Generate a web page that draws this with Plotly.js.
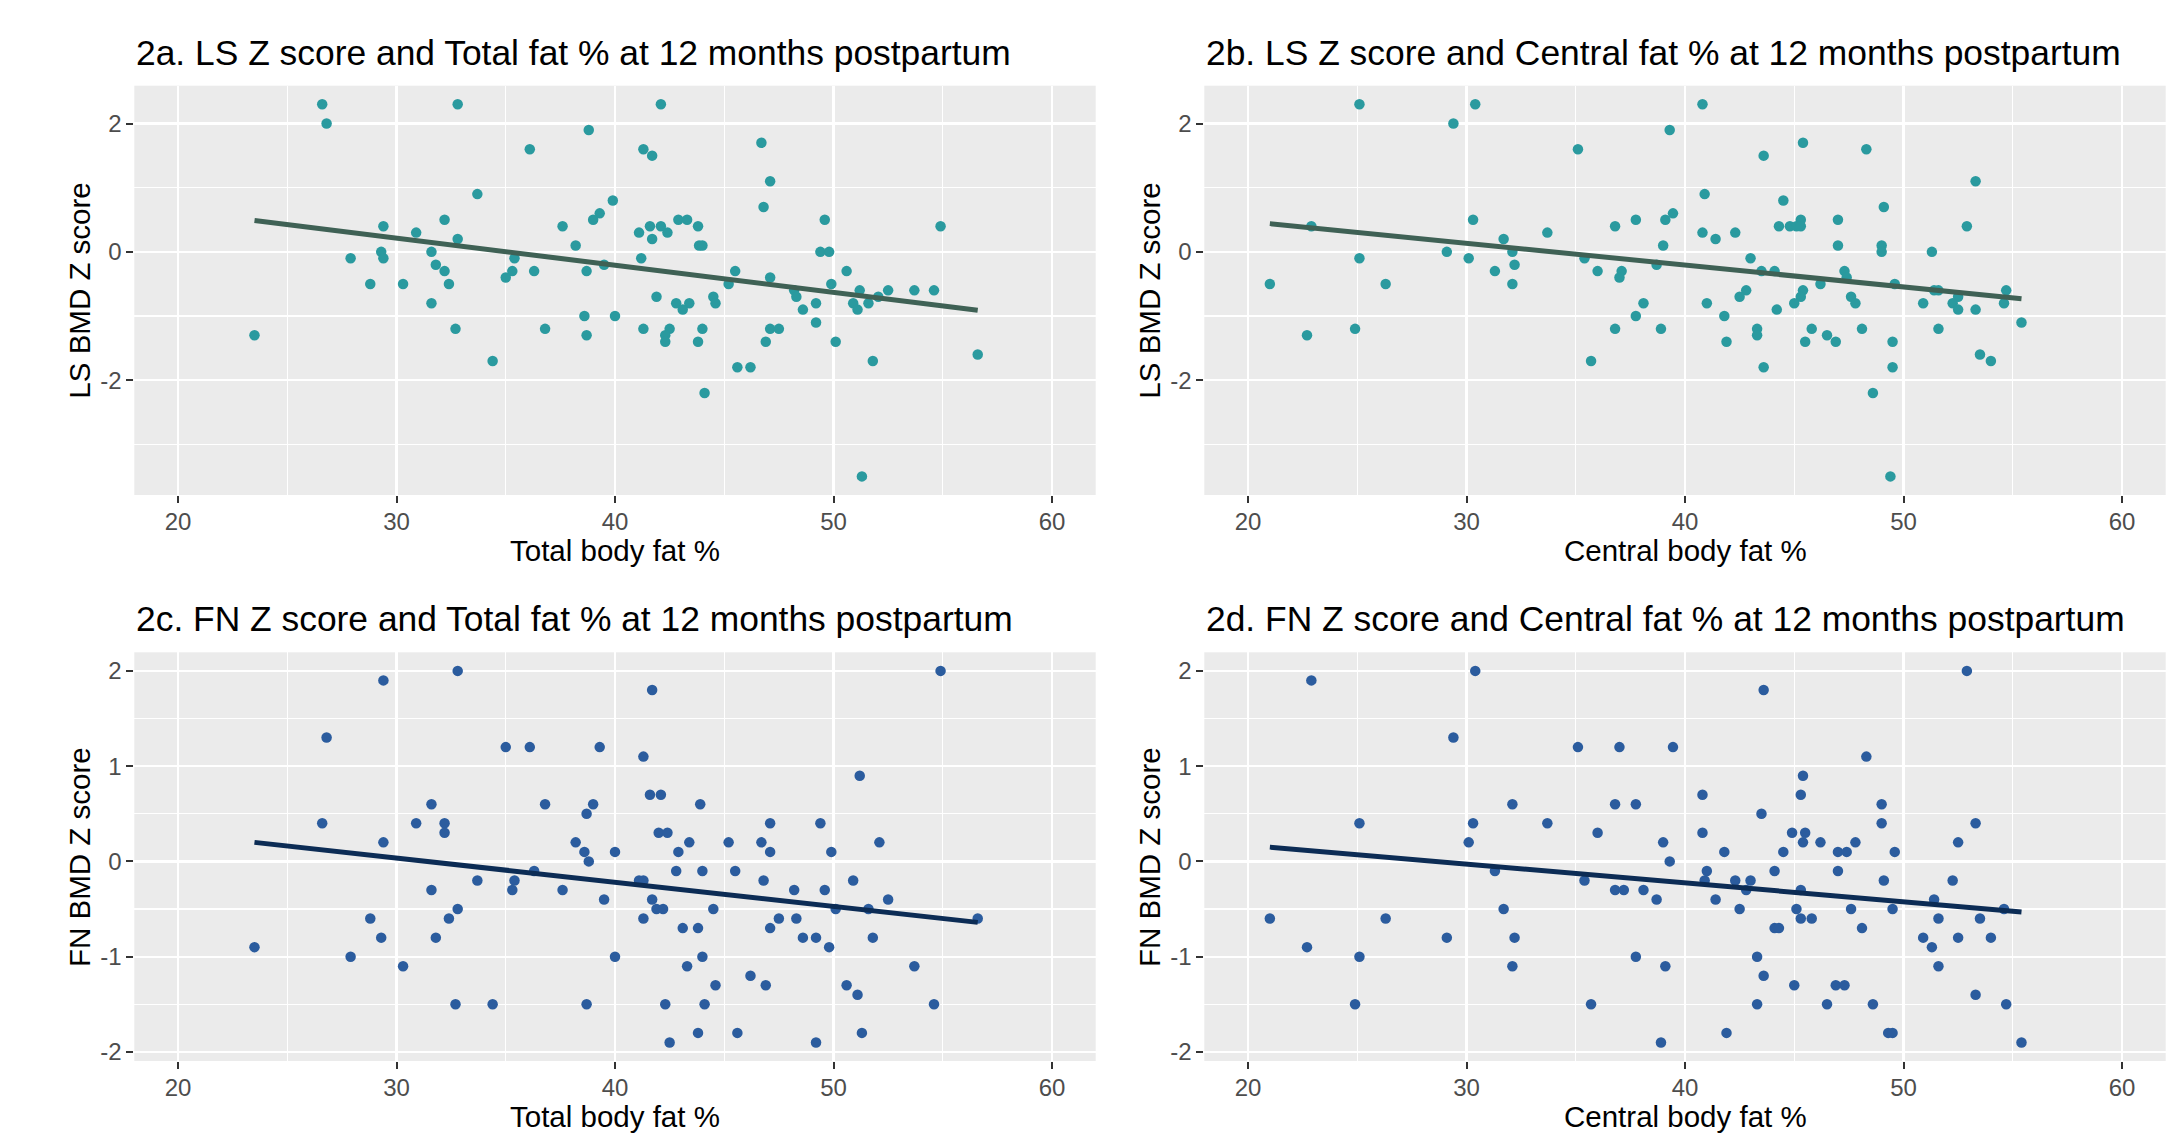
<!DOCTYPE html>
<html>
<head>
<meta charset="utf-8">
<script src="https://cdn.plot.ly/plotly-3.0.1.min.js"></script>
<style>
  html, body { margin: 0; padding: 0; background: #ffffff; }
  #chart { width: 2174px; height: 1135px; }
</style>
</head>
<body>
<div id="chart"></div>
<script>
// ---------- Data ----------
// 2a: LS BMD Z score vs Total body fat %
const lsTotalX = [26.6, 26.8, 32.8, 38.8, 36.1, 33.7, 39.9, 39.3, 39.0, 29.4, 37.6, 32.2, 30.9, 32.8, 38.2, 31.6, 29.3, 27.9, 29.4, 35.4,
  31.8, 32.2, 35.3, 36.3, 38.7, 39.5, 35.0, 28.8, 30.3, 32.4, 31.6, 38.6, 40.0, 32.7, 36.8, 38.7, 23.5, 34.4,
  42.1, 41.3, 41.7, 46.7, 47.1, 46.8, 49.6, 54.9, 41.1, 41.6, 42.1, 42.4, 42.9, 43.3, 43.8, 41.7, 43.85, 44.0, 41.2, 49.4,
  49.8, 45.5, 50.6, 45.2, 47.1, 49.9, 48.2, 48.3, 51.2, 52.5, 53.7, 54.6, 52.05, 41.9, 42.8, 43.4, 43.1, 44.5, 44.6, 49.2,
  50.9, 51.6, 51.1, 48.6, 49.2, 41.3, 42.5, 42.3, 42.3, 44.0, 43.8, 47.1, 47.5, 46.9, 50.1, 45.6, 46.2, 51.8, 56.6, 44.1, 51.3];
const lsTotalY = [2.3, 2.0, 2.3, 1.9, 1.6, 0.9, 0.8, 0.6, 0.5, 0.4, 0.4, 0.5, 0.3, 0.2, 0.1, 0.0, 0.0, -0.1, -0.1, -0.1,
  -0.2, -0.3, -0.3, -0.3, -0.3, -0.2, -0.4, -0.5, -0.5, -0.5, -0.8, -1.0, -1.0, -1.2, -1.2, -1.3, -1.3, -1.7,
  2.3, 1.6, 1.5, 1.7, 1.1, 0.7, 0.5, 0.4, 0.3, 0.4, 0.4, 0.3, 0.5, 0.5, 0.4, 0.2, 0.1, 0.1, -0.1, 0.0,
  0.0, -0.3, -0.3, -0.5, -0.4, -0.5, -0.6, -0.7, -0.6, -0.6, -0.6, -0.6, -0.7, -0.7, -0.8, -0.8, -0.9, -0.7, -0.8, -0.8,
  -0.8, -0.8, -0.9, -0.9, -1.1, -1.2, -1.2, -1.3, -1.4, -1.2, -1.4, -1.2, -1.2, -1.4, -1.4, -1.8, -1.8, -1.7, -1.6, -2.2, -3.5];
const lsTotalFitX = [23.5, 56.6];
const lsTotalFitY = [0.49, -0.91];

// 2b: LS BMD Z score vs Central body fat %
const lsCentralX = [25.1, 30.4, 29.4, 39.3, 35.1, 39.45, 39.1, 30.3, 37.75, 36.8, 22.9, 33.7, 31.7, 39.0, 29.1, 32.1, 25.1, 30.1, 35.4, 32.2,
  38.7, 31.3, 36.0, 37.1, 37.0, 21.0, 26.3, 32.1, 38.1, 37.75, 24.9, 36.8, 38.9, 22.7, 35.7,
  40.8, 45.4, 43.6, 48.3, 53.3, 40.9, 44.5, 49.1, 45.3, 47.0, 44.3, 44.8, 45.1, 45.3, 52.9, 40.8, 41.4, 42.3, 47.0, 49.0,
  49.0, 51.3, 43.0, 43.5, 44.1, 47.3, 47.4, 46.2, 49.6, 42.8, 42.5, 45.4, 45.3, 45.0, 47.6, 47.8, 41.0, 44.2, 41.8, 51.4,
  51.6, 52.5, 50.9, 52.25, 52.5, 53.3, 54.7, 54.6, 55.4, 43.3, 43.3, 45.8, 48.1, 51.6, 41.9, 45.5, 46.5, 46.9, 49.5, 49.5,
  43.6, 53.5, 54.0, 48.6, 49.4];
const lsCentralY = [2.3, 2.3, 2.0, 1.9, 1.6, 0.6, 0.5, 0.5, 0.5, 0.4, 0.4, 0.3, 0.2, 0.1, 0.0, 0.0, -0.1, -0.1, -0.1, -0.2,
  -0.2, -0.3, -0.3, -0.3, -0.4, -0.5, -0.5, -0.5, -0.8, -1.0, -1.2, -1.2, -1.2, -1.3, -1.7,
  2.3, 1.7, 1.5, 1.6, 1.1, 0.9, 0.8, 0.7, 0.5, 0.5, 0.4, 0.4, 0.4, 0.4, 0.4, 0.3, 0.2, 0.3, 0.1, 0.1,
  0.0, 0.0, -0.1, -0.3, -0.3, -0.3, -0.4, -0.5, -0.5, -0.6, -0.7, -0.6, -0.7, -0.8, -0.7, -0.8, -0.8, -0.9, -1.0, -0.6,
  -0.6, -0.7, -0.8, -0.8, -0.9, -0.9, -0.6, -0.8, -1.1, -1.2, -1.3, -1.2, -1.2, -1.2, -1.4, -1.4, -1.3, -1.4, -1.4, -1.8,
  -1.8, -1.6, -1.7, -2.2, -3.5];
const lsCentralFitX = [21.0, 55.4];
const lsCentralFitY = [0.44, -0.73];

// 2c: FN BMD Z score vs Total body fat %
const fnTotalX = [29.4, 32.8, 26.8, 35.0, 36.1, 39.3, 31.6, 36.8, 39.0, 38.7, 26.6, 30.9, 32.2, 32.2, 29.4, 38.2, 38.6, 40.0, 38.8, 36.3,
  33.7, 35.4, 31.6, 35.3, 37.6, 39.5, 32.8, 28.8, 32.4, 29.3, 31.8, 23.5, 27.9, 40.0, 30.3, 32.7, 34.4, 38.7,
  41.7, 54.9, 41.3, 51.2, 41.6, 42.1, 43.9, 47.1, 49.4, 42.0, 42.4, 43.4, 45.2, 46.7, 52.1, 42.9, 47.1, 49.9, 42.8, 44.0,
  45.5, 41.1, 41.3, 46.8, 50.9, 48.2, 49.6, 41.7, 52.5, 41.9, 42.2, 44.5, 50.1, 51.6, 41.3, 47.5, 48.3, 56.6, 43.1, 43.8,
  47.1, 48.6, 49.2, 51.8, 49.8, 44.0, 43.3, 53.7, 46.2, 44.6, 46.9, 50.6, 51.1, 42.3, 44.1, 54.6, 43.8, 45.6, 51.3, 42.5, 49.2];
const fnTotalY = [1.9, 2.0, 1.3, 1.2, 1.2, 1.2, 0.6, 0.6, 0.6, 0.5, 0.4, 0.4, 0.4, 0.3, 0.2, 0.2, 0.1, 0.1, 0.0, -0.1,
  -0.2, -0.2, -0.3, -0.3, -0.3, -0.4, -0.5, -0.6, -0.6, -0.8, -0.8, -0.9, -1.0, -1.0, -1.1, -1.5, -1.5, -1.5,
  1.8, 2.0, 1.1, 0.9, 0.7, 0.7, 0.6, 0.4, 0.4, 0.3, 0.3, 0.2, 0.2, 0.2, 0.2, 0.1, 0.1, 0.1, -0.1, -0.1,
  -0.1, -0.2, -0.2, -0.2, -0.2, -0.3, -0.3, -0.4, -0.4, -0.5, -0.5, -0.5, -0.5, -0.5, -0.6, -0.6, -0.6, -0.6, -0.7, -0.7,
  -0.7, -0.8, -0.8, -0.8, -0.9, -1.0, -1.1, -1.1, -1.2, -1.3, -1.3, -1.3, -1.4, -1.5, -1.5, -1.5, -1.8, -1.8, -1.8, -1.9, -1.9];
const fnTotalFitX = [23.5, 56.6];
const fnTotalFitY = [0.20, -0.64];

// 2d: FN BMD Z score vs Central body fat %
const fnCentralX = [22.9, 30.4, 29.4, 35.1, 37.0, 39.45, 32.1, 36.8, 37.75, 25.1, 30.3, 33.7, 36.0, 30.1, 39.0, 39.3, 31.3, 35.4, 36.8, 37.2,
  38.1, 38.7, 31.7, 21.0, 26.3, 29.1, 32.2, 22.7, 25.1, 37.75, 32.1, 39.1, 24.9, 35.7, 38.9,
  43.6, 52.9, 48.3, 45.4, 45.3, 40.8, 49.0, 43.5, 49.0, 53.3, 40.8, 44.9, 45.5, 45.4, 46.2, 47.8, 52.5, 41.8, 44.5, 47.0,
  47.4, 49.6, 41.0, 44.1, 47.0, 40.9, 42.3, 43.0, 49.1, 52.25, 42.8, 45.3, 41.4, 51.4, 42.5, 45.1, 47.6, 49.5, 54.6, 45.3,
  45.8, 51.6, 53.5, 44.1, 44.3, 48.1, 50.9, 52.5, 54.0, 51.3, 43.3, 51.6, 43.6, 45.0, 46.9, 47.3, 53.3, 43.3, 46.5, 48.6,
  54.7, 41.9, 49.3, 49.5, 55.4];
const fnCentralY = [1.9, 2.0, 1.3, 1.2, 1.2, 1.2, 0.6, 0.6, 0.6, 0.4, 0.4, 0.4, 0.3, 0.2, 0.2, 0.0, -0.1, -0.2, -0.3, -0.3,
  -0.3, -0.4, -0.5, -0.6, -0.6, -0.8, -0.8, -0.9, -1.0, -1.0, -1.1, -1.1, -1.5, -1.5, -1.9,
  1.8, 2.0, 1.1, 0.9, 0.7, 0.7, 0.6, 0.5, 0.4, 0.4, 0.3, 0.3, 0.3, 0.2, 0.2, 0.2, 0.2, 0.1, 0.1, 0.1,
  0.1, 0.1, -0.1, -0.1, -0.1, -0.2, -0.2, -0.2, -0.2, -0.2, -0.3, -0.3, -0.4, -0.4, -0.5, -0.5, -0.5, -0.5, -0.5, -0.6,
  -0.6, -0.6, -0.6, -0.7, -0.7, -0.7, -0.8, -0.8, -0.8, -0.9, -1.0, -1.1, -1.2, -1.3, -1.3, -1.3, -1.4, -1.5, -1.5, -1.5,
  -1.5, -1.8, -1.8, -1.8, -1.9];
const fnCentralFitX = [21.0, 55.4];
const fnCentralFitY = [0.15, -0.53];

// Tick labels
const xTickVals = [20, 30, 40, 50, 60];
const xTickText = ['20', '30', '40', '50', '60'];
const xMinorVals = [25, 35, 45, 55];
const lsTickVals = [-2, 0, 2];
const lsTickText = ['-2', '0', '2'];
const lsMinorVals = [-3, -1, 1];
const fnTickVals = [-2, -1, 0, 1, 2];
const fnTickText = ['-2', '-1', '0', '1', '2'];
const fnMinorVals = [-1.5, -0.5, 0.5, 1.5];

const panelTitles = [
  '2a. LS Z score and Total fat % at 12 months postpartum',
  '2b. LS Z score and Central fat % at 12 months postpartum',
  '2c. FN Z score and Total fat % at 12 months postpartum',
  '2d. FN Z score and Central fat % at 12 months postpartum'
];
const xTitles = ['Total body fat %', 'Central body fat %', 'Total body fat %', 'Central body fat %'];
const yTitles = ['LS BMD Z score', 'LS BMD Z score', 'FN BMD Z score', 'FN BMD Z score'];

// ---------- Styling ----------
const W = 2174, H = 1135;
const FONT = 'Liberation Sans, Arial, sans-serif';
const tealPt = '#2A9A9F', tealLine = '#3F6155';
const bluePt = '#2B5C9E', blueLine = '#0C2C55';

const colDom = [[134.3 / W, 1095.7 / W], [1204.3 / W, 2165.7 / W]];
const rowDomPx = [[85.7, 495], [652.3, 1061]];
const rowDom = rowDomPx.map(r => [1 - r[1] / H, 1 - r[0] / H]);

function xAxis(col, row, anchor) {
  return {
    domain: colDom[col], anchor: anchor, range: [18, 62],
    tickmode: 'array', tickvals: xTickVals, ticktext: xTickText,
    ticks: 'outside', ticklen: 7, tickwidth: 2, tickcolor: '#333333',
    ticklabelstandoff: -2,
    showgrid: true, gridcolor: '#FFFFFF', gridwidth: 2.2,
    minor: { tickmode: 'array', tickvals: xMinorVals, showgrid: true, gridcolor: '#FFFFFF', gridwidth: 1.1 },
    zeroline: false, showline: false,
    tickfont: { family: FONT, size: 24, color: '#4D4D4D' },
    fixedrange: true
  };
}
function yAxis(col, row, anchor, kind) {
  const ls = kind === 'ls';
  return {
    domain: rowDom[row], anchor: anchor,
    range: ls ? [-3.79, 2.59] : [-2.095, 2.195],
    tickmode: 'array', tickvals: ls ? lsTickVals : fnTickVals, ticktext: ls ? lsTickText : fnTickText,
    ticks: 'outside', ticklen: 7, tickwidth: 2, tickcolor: '#333333',
    showgrid: true, gridcolor: '#FFFFFF', gridwidth: 2.2,
    minor: { tickmode: 'array', tickvals: ls ? lsMinorVals : fnMinorVals, showgrid: true, gridcolor: '#FFFFFF', gridwidth: 1.1 },
    zeroline: false, showline: false,
    tickfont: { family: FONT, size: 24, color: '#4D4D4D' },
    fixedrange: true
  };
}

function pts(x, y, xa, ya, color) {
  return { type: 'scatter', mode: 'markers', x: x, y: y, xaxis: xa, yaxis: ya,
    marker: { color: color, size: 10.5, line: { width: 0 } }, hoverinfo: 'x+y', showlegend: false, cliponaxis: true };
}
function fit(x, y, xa, ya, color) {
  return { type: 'scatter', mode: 'lines', x: x, y: y, xaxis: xa, yaxis: ya,
    line: { color: color, width: 5 }, hoverinfo: 'skip', showlegend: false };
}

const data = [
  pts(lsTotalX, lsTotalY, 'x', 'y', tealPt), fit(lsTotalFitX, lsTotalFitY, 'x', 'y', tealLine),
  pts(lsCentralX, lsCentralY, 'x2', 'y2', tealPt), fit(lsCentralFitX, lsCentralFitY, 'x2', 'y2', tealLine),
  pts(fnTotalX, fnTotalY, 'x3', 'y3', bluePt), fit(fnTotalFitX, fnTotalFitY, 'x3', 'y3', blueLine),
  pts(fnCentralX, fnCentralY, 'x4', 'y4', bluePt), fit(fnCentralFitX, fnCentralFitY, 'x4', 'y4', blueLine)
];

const panels = [{ c: 0, r: 0 }, { c: 1, r: 0 }, { c: 0, r: 1 }, { c: 1, r: 1 }];
const annotations = [];
panels.forEach((p, i) => {
  const dom = colDom[p.c];
  const top = rowDomPx[p.r][0], bot = rowDomPx[p.r][1];
  annotations.push({ text: panelTitles[i], xref: 'paper', yref: 'paper',
    x: dom[0], xanchor: 'left', y: 1 - (top - 33) / H, yanchor: 'middle', showarrow: false,
    font: { family: FONT, size: 35.4, color: '#000000' } });
  annotations.push({ text: xTitles[i], xref: 'paper', yref: 'paper',
    x: (dom[0] + dom[1]) / 2, xanchor: 'center', y: 1 - (bot + 55.5) / H, yanchor: 'middle', showarrow: false,
    font: { family: FONT, size: 29.5, color: '#000000' } });
  annotations.push({ text: yTitles[i], xref: 'paper', yref: 'paper', textangle: -90,
    x: (dom[0] * W - 55) / W, xanchor: 'center', y: 1 - ((top + bot) / 2) / H, yanchor: 'middle', showarrow: false,
    font: { family: FONT, size: 29.5, color: '#000000' } });
});

const layout = {
  width: W, height: H,
  margin: { l: 0, r: 0, t: 0, b: 0 },
  paper_bgcolor: '#FFFFFF', plot_bgcolor: '#EBEBEB',
  showlegend: false,
  font: { family: FONT },
  xaxis: xAxis(0, 0, 'y'), yaxis: yAxis(0, 0, 'x', 'ls'),
  xaxis2: xAxis(1, 0, 'y2'), yaxis2: yAxis(1, 0, 'x2', 'ls'),
  xaxis3: xAxis(0, 1, 'y3'), yaxis3: yAxis(0, 1, 'x3', 'fn'),
  xaxis4: xAxis(1, 1, 'y4'), yaxis4: yAxis(1, 1, 'x4', 'fn'),
  annotations: annotations
};

Plotly.newPlot('chart', data, layout, { displayModeBar: false, staticPlot: true });
</script>
</body>
</html>
